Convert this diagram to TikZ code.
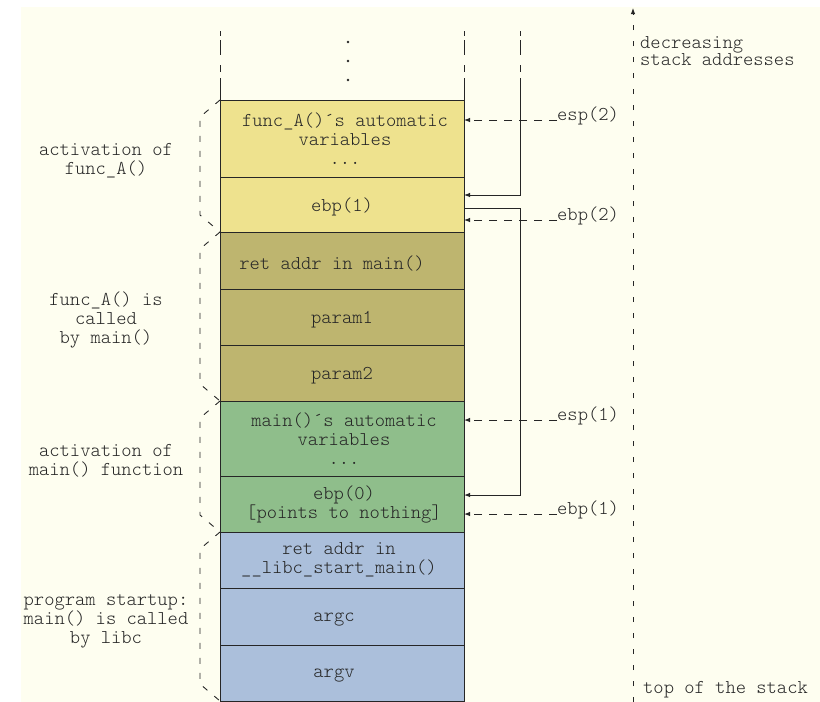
\documentclass[tikz,border=0pt]{standalone}
\usepackage{fontspec}
\usetikzlibrary{arrows.meta}
\definecolor{paper}{HTML}{FEFEF0}
\definecolor{fyellow}{HTML}{EEE28E}
\definecolor{folive}{HTML}{BEB56F}
\definecolor{fgreen}{HTML}{8FBE8B}
\definecolor{fblue}{HTML}{ABBFDB}
\definecolor{ink}{HTML}{262626}
\newcommand{\stackfont}{\ttfamily\fontseries{l}\fontsize{19.6}{19}\selectfont}
\begin{document}
\begin{tikzpicture}[x=1pt,y=-1pt,
  font=\stackfont,
  cell/.style={draw=ink, line width=1pt, anchor=north west, minimum width=244pt, inner sep=0pt, outer sep=0pt},
  celltext/.style={text=ink, align=center, inner sep=0pt},
  side/.style={text=ink, align=center, inner sep=0pt},
  tag/.style={text=ink, inner sep=0pt, anchor=base west},
  ptr/.style={draw=ink, line width=1pt, -{Latex[length=6pt,width=4.5pt]}},
  dptr/.style={ptr, dash pattern=on 8pt off 7pt},
  brace/.style={draw=ink, line width=0.9pt, dash pattern=on 6pt off 9pt},
  fade/.style={draw=ink, line width=1pt, dash pattern=on 5pt off 4pt on 15pt off 10pt on 7pt off 6pt},
]
% page and paper
\useasboundingbox (0,0) rectangle (820,702);
\fill[white] (0,0) rectangle (820,702);
\fill[paper] (21,7) rectangle (820,702);

% stack cells
\node[cell, fill=fyellow, minimum height=77pt] (autoA) at (220,100) {};
\node[cell, fill=fyellow, minimum height=55pt] (ebpA) at (220,177) {};
\node[cell, fill=folive, minimum height=57pt] (ret) at (220,232) {};
\node[cell, fill=folive, minimum height=56pt] (p1) at (220,289) {};
\node[cell, fill=folive, minimum height=56pt] (p2) at (220,345) {};
\node[cell, fill=fgreen, minimum height=75pt] (autoM) at (220,401) {};
\node[cell, fill=fgreen, minimum height=56pt] (ebpM) at (220,476) {};
\node[cell, fill=fblue, minimum height=56pt] (retL) at (220,532) {};
\node[cell, fill=fblue, minimum height=57pt] (argc) at (220,588) {};
\node[cell, fill=fblue, minimum height=56pt] (argv) at (220,645) {};

% cell contents
\node[celltext] (tautoA) at ([xshift=3pt]autoA.center) {func\_A()´s automatic\\variables\\...};
\node[celltext] (tebpA) at ([yshift=-2.5pt]ebpA.center) {ebp(1)};
\node[celltext] (tret) at ([xshift=-10pt,yshift=-3pt]ret.center) {ret addr in main()};
\node[celltext] (tp1) at ([yshift=-3pt]p1.center) {param1};
\node[celltext] (tp2) at ([yshift=-3pt]p2.center) {param2};
\node[celltext] (tautoM) at ([xshift=2pt]autoM.center) {main()´s automatic\\variables\\...};
\node[celltext] (tebpM) at ([xshift=2pt]ebpM.center) {ebp(0)\\{[}points to nothing{]}};
\node[celltext] (tretL) at ([xshift=-3pt]retL.center) {ret addr in\\\_\_libc\_start\_main()};
\node[celltext] (targc) at ([xshift=-8pt,yshift=-3pt]argc.center) {argc};
\node[celltext] (targv) at ([xshift=-8pt,yshift=-3pt]argv.center) {argv};

% open top of the stack
\coordinate (topL) at (220,31);
\coordinate (topR) at (464,31);
\coordinate (topP) at (520,31);
\coordinate (pv) at (520,78);
\draw[fade] (topL) -- ++(0,47);
\draw[fade] (topR) -- ++(0,47);
\draw[fade] (topP) -- (pv);
\draw[draw=ink, line width=1pt] (220,78) -- (autoA.north west);
\draw[draw=ink, line width=1pt] (464,78) -- (autoA.north east);
\fill[ink] (348,42) circle[radius=1.4pt];
\fill[ink] (348,61) circle[radius=1.4pt];
\fill[ink] (348,80) circle[radius=1.4pt];

% saved frame pointer chain
\coordinate (inA) at ([yshift=-18pt]ebpA.north east);
\coordinate (outA) at ([yshift=-31pt]ebpA.north east);
\coordinate (inM) at ([yshift=-19pt]ebpM.north east);
\draw[ptr] (pv) |- (inA);
\draw[ptr] (outA) -- (outA -| pv) |- (inM);

% register pointers
\node[tag] (esp2) at (557,120) {esp(2)};
\node[tag] (ebp2) at (557,220) {ebp(2)};
\node[tag] (esp1) at (557,420) {esp(1)};
\node[tag] (ebp1) at (557,514) {ebp(1)};
\draw[dptr] (esp2.base west) -- (esp2.base west -| autoA.east);
\draw[dptr] (ebp2.base west) -- (ebp2.base west -| ebpA.east);
\draw[dptr] (esp1.base west) -- (esp1.base west -| autoM.east);
\draw[dptr] (ebp1.base west) -- (ebp1.base west -| ebpM.east);

% frame brackets
\draw[brace] (autoA.north west) -- ++(-20,17) -- ([shift={(-20,-17)}]ebpA.south west) -- (ebpA.south west);
\draw[brace] (ret.north west) -- ++(-20,17) -- ([shift={(-20,-17)}]p2.south west) -- (p2.south west);
\draw[brace] (autoM.north west) -- ++(-20,17) -- ([shift={(-20,-17)}]ebpM.south west) -- (ebpM.south west);
\draw[brace] (retL.north west) -- ++(-20,17) -- ([shift={(-20,-17)}]argv.south west) -- (argv.south west);
\node[side] (labA) at (106,161) {activation of\\func\_A()};
\node[side] (labB) at (106,320) {func\_A() is\\called\\by main()};
\node[side] (labC) at (106,461) {activation of\\main() function};
\node[side] (labD) at (106,621) {program startup:\\main() is called\\by libc};

% address axis
\coordinate (axb) at (633,702);
\coordinate (axt) at (633,8);
\draw[draw=ink, line width=0.9pt, dash pattern=on 5pt off 11pt, -{Latex[length=6pt,width=4.5pt]}] (axb) -- (axt);
\node[anchor=west, align=left, inner sep=0pt, text=ink, font={\ttfamily\fontseries{l}\fontsize{19.6}{16.5}\selectfont}] (dec) at (640,51) {decreasing\\stack addresses};
\node[tag] (tos) at (643,693.5) {top of the stack};
\end{tikzpicture}
\end{document}
